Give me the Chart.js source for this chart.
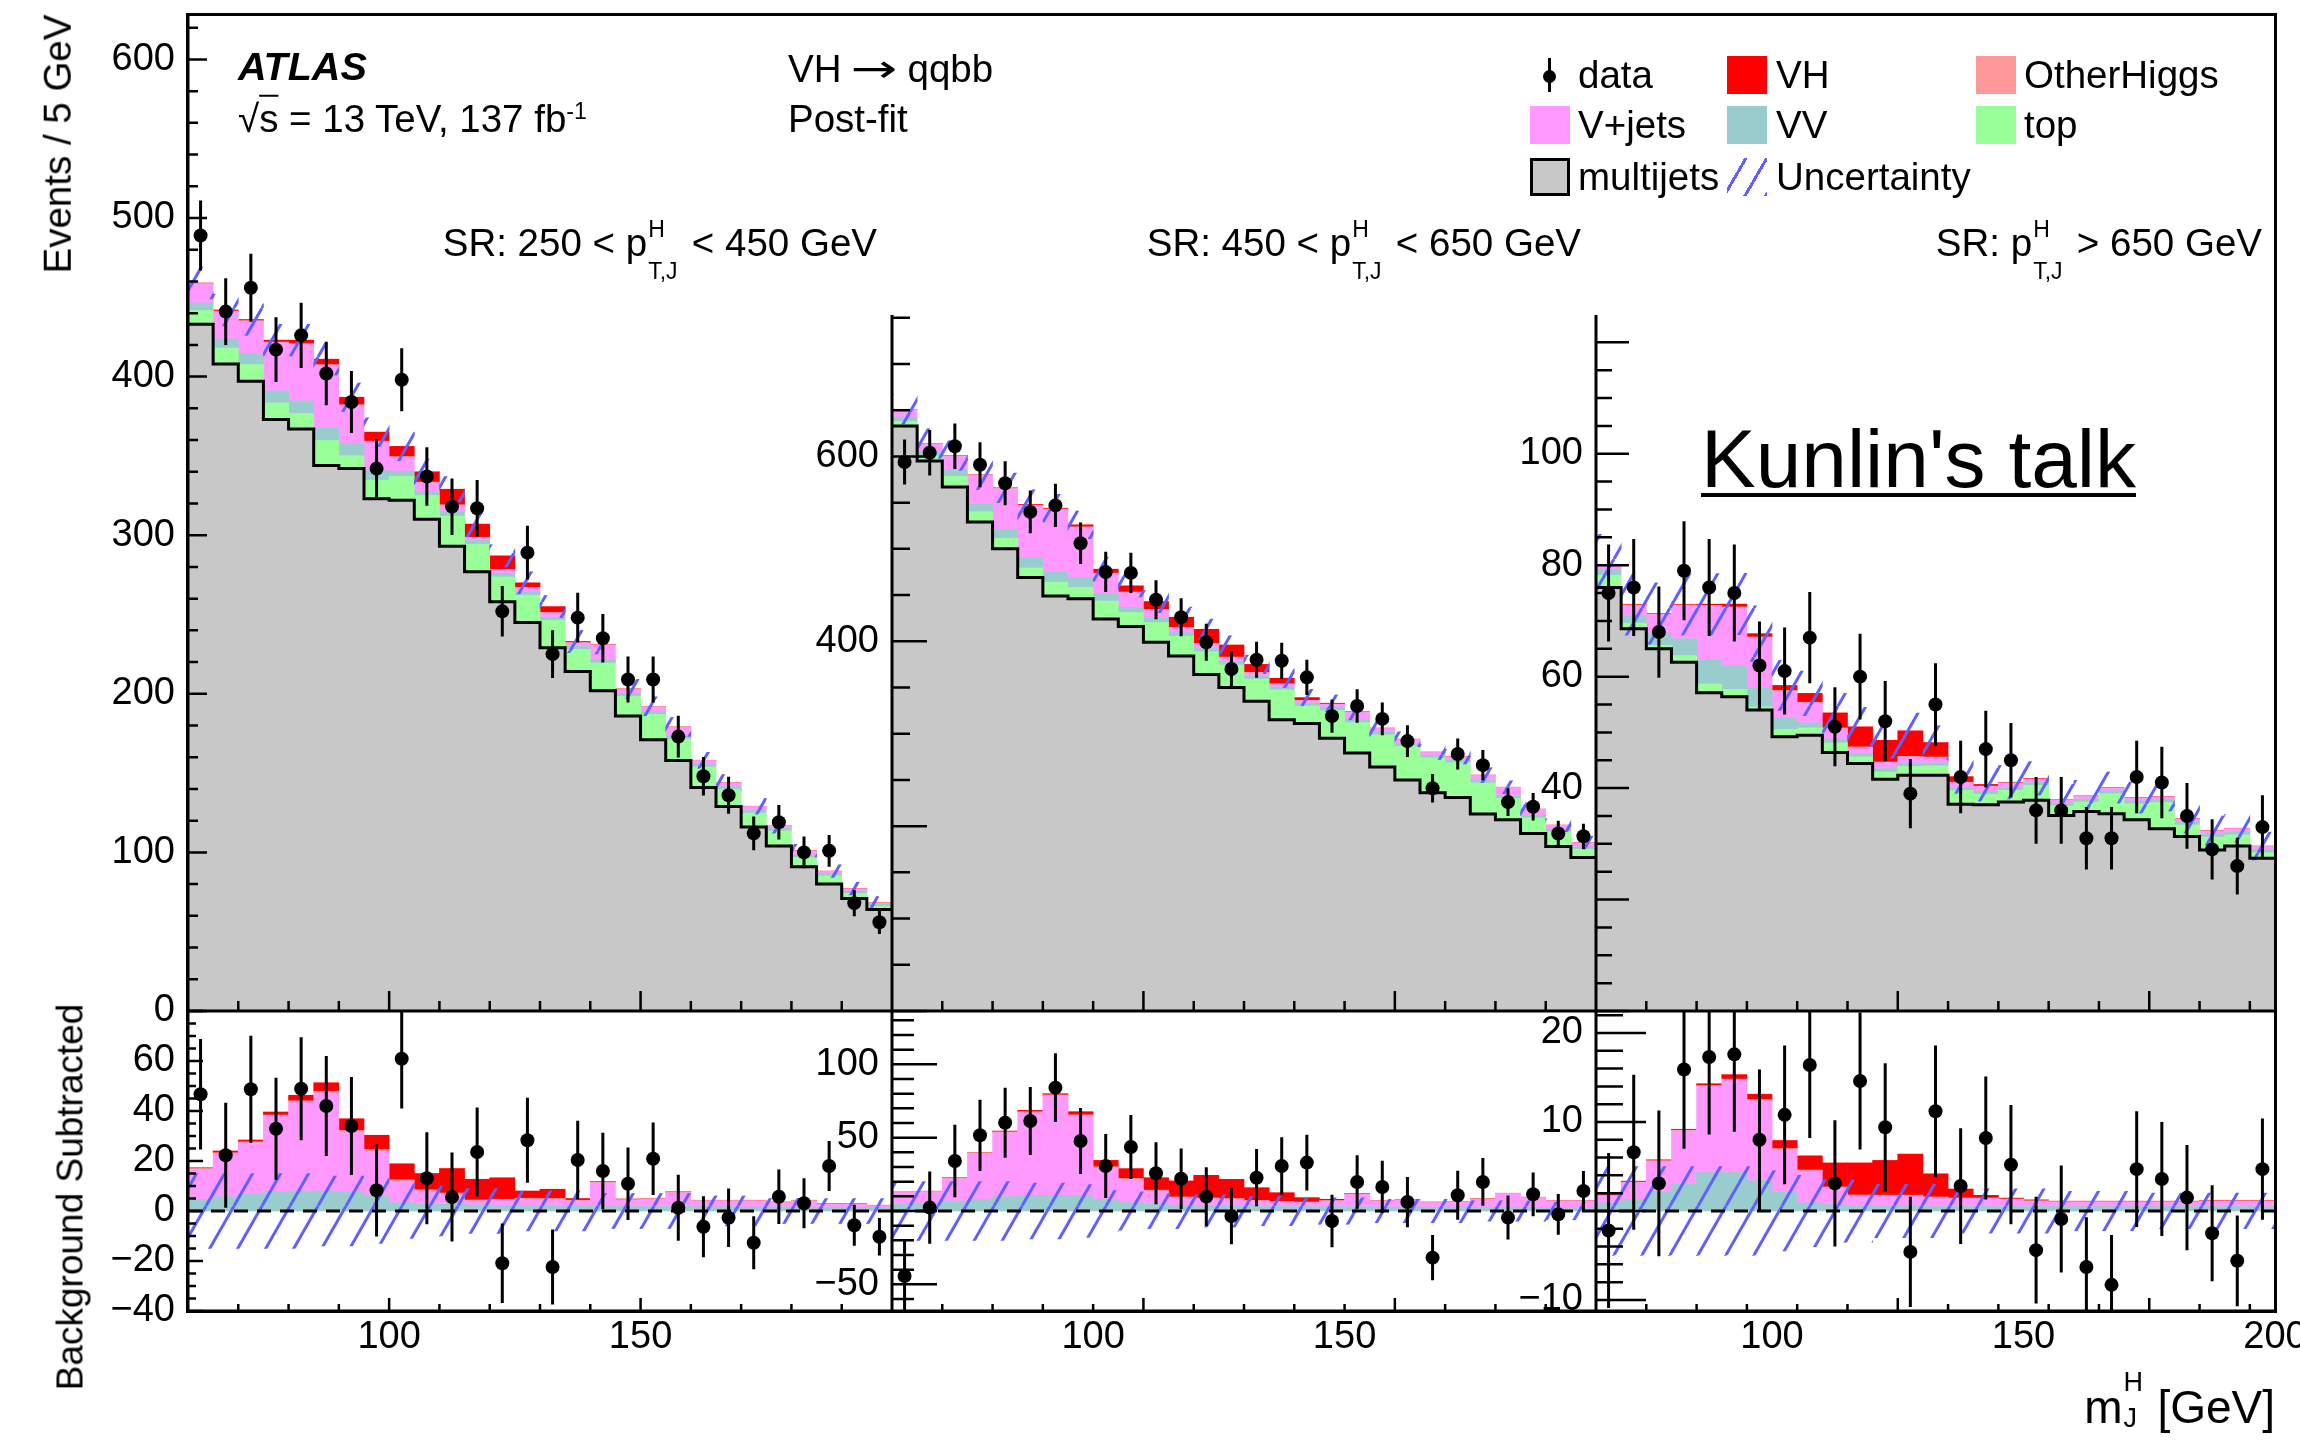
<!DOCTYPE html>
<html>
<head>
<meta charset="utf-8">
<title>VH to qqbb post-fit large-R jet mass</title>
<script src="https://cdn.jsdelivr.net/npm/chart.js@4.4.1/dist/chart.umd.min.js"></script>
<style>
  html, body { margin: 0; padding: 0; background: #fff; }
  body { position: relative; width: 2300px; height: 1441px; overflow: hidden;
         font-family: "Liberation Sans", Arial, Helvetica, sans-serif; color: #000; }
  canvas { position: absolute; }
  .t { position: absolute; white-space: nowrap; line-height: 1; font-size: 38.5px; transform: translateY(-50%); z-index: 5; }
  .r { transform: translate(-100%, -50%); }
  .rot { transform: translate(-50%, -50%) rotate(-90deg); }
  .ss { position: relative; display: inline-block; width: 34px; height: 0.8em; }
  .ss span { position: absolute; left: 1px; font-size: 23px; line-height: 1; }
  .ss .up { top: -7px; }
  .ss .dn { top: 35px; }
  .sq { text-decoration: overline; text-decoration-thickness: 2px; }
  .sup { position: relative; top: -0.55em; font-size: 0.6em; }
  .arr { display: inline-block; width: 66px; text-align: center; font-family: "DejaVu Sans", sans-serif; }
  .arr span { display: inline-block; transform: scaleX(1.45); }
  .sw { position: absolute; width: 40px; height: 38px; box-sizing: border-box; z-index: 5; }
  #frame { position: absolute; left: 186px; top: 13px; width: 2085px; height: 1294px; border: 3px solid #000; z-index: 4; }
</style>
</head>
<body>
<canvas id="u1"></canvas>
<canvas id="u2"></canvas>
<canvas id="u3"></canvas>
<canvas id="l1"></canvas>
<canvas id="l2"></canvas>
<canvas id="l3"></canvas>
<div id="frame"></div>

<div class="t" style="left:238px;top:67px;font-weight:bold;font-style:italic;font-size:39.5px">ATLAS</div>
<div class="t" style="left:238px;top:119px">√<span class="sq">s</span> = 13 TeV, 137 fb<span class="sup">-1</span></div>
<div class="t" style="left:788px;top:69px">VH<span class="arr"><span>→</span></span>qqbb</div>
<div class="t" style="left:788px;top:119px">Post-fit</div>

<div class="t r" style="left:877px;top:243px">SR: 250 &lt; p<span class="ss"><span class="up">H</span><span class="dn">T,J</span></span> &lt; 450 GeV</div>
<div class="t r" style="left:1581px;top:243px">SR: 450 &lt; p<span class="ss"><span class="up">H</span><span class="dn">T,J</span></span> &lt; 650 GeV</div>
<div class="t r" style="left:2262px;top:243px">SR: p<span class="ss"><span class="up">H</span><span class="dn">T,J</span></span> &gt; 650 GeV</div>

<div class="sw" style="left:1548px;top:58px;width:3px;height:34px;background:#000"></div>
<div class="sw" style="left:1543px;top:70px;width:13px;height:13px;border-radius:50%;background:#000"></div>
<div class="t" style="left:1578px;top:75px">data</div>
<div class="sw" style="left:1727px;top:56px;background:#ff0000"></div>
<div class="t" style="left:1776px;top:75px">VH</div>
<div class="sw" style="left:1976px;top:56px;background:#ff9999"></div>
<div class="t" style="left:2024px;top:75px">OtherHiggs</div>
<div class="sw" style="left:1530px;top:106px;background:#ff99ff"></div>
<div class="t" style="left:1578px;top:125px">V+jets</div>
<div class="sw" style="left:1727px;top:106px;background:#99cccc"></div>
<div class="t" style="left:1776px;top:125px">VV</div>
<div class="sw" style="left:1976px;top:106px;background:#99ff99"></div>
<div class="t" style="left:2024px;top:125px">top</div>
<div class="sw" style="left:1530px;top:158px;background:#c8c8c8;border:3px solid #000"></div>
<div class="t" style="left:1578px;top:177px">multijets</div>
<div class="sw" style="left:1727px;top:158px;background:repeating-linear-gradient(120deg, transparent 0 15px, #6060ff 15px 18px)"></div>
<div class="t" style="left:1776px;top:177px">Uncertainty</div>

<div class="t" style="left:1701px;top:459px;font-size:82px;text-decoration:underline;text-decoration-thickness:4px;text-underline-offset:6px">Kunlin's talk</div>

<div class="t rot" style="left:58px;top:144px">Events / 5 GeV</div>
<div class="t rot" style="left:70px;top:1197px;font-size:37px">Background Subtracted</div>
<div class="t r" style="left:2275px;top:1407px;font-size:46px">m<span class="ss" style="width:22px;height:0.8em"><span class="up" style="font-size:27px;top:-17px">H</span><span class="dn" style="font-size:27px;top:19px">J</span></span> [GeV]</div>

<script>
// ---- bin centres (GeV) ----
const massA = [62.5, 67.5, 72.5, 77.5, 82.5, 87.5, 92.5, 97.5, 102.5, 107.5, 112.5, 117.5, 122.5, 127.5,
               132.5, 137.5, 142.5, 147.5, 152.5, 157.5, 162.5, 167.5, 172.5, 177.5, 182.5, 187.5, 192.5, 197.5];
const massC = [67.5, 72.5, 77.5, 82.5, 87.5, 92.5, 97.5, 102.5, 107.5, 112.5, 117.5, 122.5, 127.5,
               132.5, 137.5, 142.5, 147.5, 152.5, 157.5, 162.5, 167.5, 172.5, 177.5, 182.5, 187.5, 192.5, 197.5];

// ---- SR 250 < pT < 450 GeV ----
const data1 = [489, 441, 456, 417, 426, 402, 384, 342, 398, 337, 318, 317, 252, 289, 225, 248, 235, 209, 209, 173, 148, 136, 112, 119, 100, 101, 68, 56];
const err1 = [22.1, 21.0, 21.4, 20.4, 20.6, 20.0, 19.6, 18.5, 19.9, 18.4, 17.8, 17.8, 15.9, 17.0, 15.0, 15.7, 15.3, 14.5, 14.5, 13.2, 12.2, 11.7, 10.6, 10.9, 10.0, 10.0, 8.2, 7.5];
const mj1 = [433, 408, 397, 373, 367, 344, 342, 323, 322, 310, 293, 277, 258, 245, 229, 214, 202, 186, 171, 158, 141, 129, 116, 104, 91, 80, 71, 64];
const top1 = [8.7, 10.0, 10.6, 10.4, 9.7, 15.7, 8.1, 11.7, 15.1, 15.0, 19.0, 17.3, 15.7, 17.0, 17.3, 14.0, 17.4, 12.3, 16.0, 13.4, 12.8, 10.8, 8.8, 9.5, 5.8, 5.2, 3.2, 1.9];
const vv1 = [4.7, 5.7, 6.7, 7.6, 8.0, 8.0, 7.6, 6.0, 3.3, 2.7, 2.7, 2.4, 2.3, 2.0, 2.0, 2.0, 2.0, 1.8, 1.8, 1.8, 1.7, 1.7, 1.6, 1.6, 1.5, 1.5, 1.4, 1.4];
const vj1 = [12.0, 17.3, 20.6, 30.4, 35.6, 39.3, 24.0, 18.0, 8.7, 5.3, 4.0, 1.6, 2.0, 2.7, 2.7, 2.0, 9.3, 2.5, 2.9, 5.5, 2.3, 2.3, 2.4, 1.7, 2.5, 1.2, 1.3, 0.6];
const oh1 = [0.3, 0.3, 0.4, 0.4, 0.5, 0.6, 0.6, 0.6, 0.5, 0.5, 0.5, 0.4, 0.4, 0.4, 0.3, 0.3, 0.3, 0.3, 0.3, 0.3, 0.2, 0.2, 0.2, 0.2, 0.2, 0.2, 0.2, 0.2];
const vh1 = [0.3, 0.7, 0.7, 1.2, 2.2, 3.4, 4.7, 5.7, 6.4, 6.5, 9.8, 8.3, 8.6, 2.9, 3.7, 0.7, 0.2, 0.2, 0.1, 0.1, 0.1, 0.1, 0.1, 0.1, 0.1, 0.1, 0.1, 0.1];
const uncUp1 = [10, 10, 10, 10, 10, 10, 9, 9, 9, 8, 8, 8, 7, 7, 7, 7, 6, 6, 6, 6, 5, 5, 5, 5, 4, 4, 4, 4];
const sub1 = [46.7, 22.3, 48.7, 32.9, 48.9, 42.0, 34.0, 8.3, 60.9, 13.1, 5.6, 23.6, -20.9, 28.3, -22.4, 20.4, 16.0, 10.9, 20.9, 1.3, -6.3, -2.7, -12.7, 5.7, 3.1, 18.0, -5.7, -10.3];
const uncLo1 = [15, 15, 15, 15, 15, 14, 14, 13, 11, 10, 10, 9, 9, 8, 8, 8, 7, 7, 7, 7, 6, 6, 6, 5, 5, 5, 5, 5];

// ---- SR 450 < pT < 650 GeV ----
const data2 = [594, 604, 611, 591, 571, 540, 547, 506, 475, 474, 445, 426, 399, 370, 380, 379, 361, 319, 330, 316, 292, 241, 278, 266, 226, 221, 192, 189];
const err2 = [24.4, 24.6, 24.7, 24.3, 23.9, 23.2, 23.4, 22.5, 21.8, 21.8, 21.1, 20.6, 20.0, 19.2, 19.5, 19.5, 19.0, 17.9, 18.2, 17.8, 17.1, 15.5, 16.7, 16.3, 15.0, 14.9, 13.9, 13.7];
const mj2 = [633, 595, 567, 529, 500, 469, 449, 446, 424, 416, 399, 384, 364, 350, 335, 315, 311, 295, 279, 264, 250, 236, 231, 213, 207, 192, 178, 166];
const top2 = [5.0, 5.5, 11.3, 11.2, 11.5, 10.4, 15.0, 12.3, 19.5, 15.1, 21.3, 21.5, 24.7, 24.4, 24.1, 32.5, 19.0, 30.0, 33.0, 34.8, 36.4, 38.0, 37.6, 33.8, 23.0, 17.0, 16.0, 9.0];
const vv2 = [4.5, 5.2, 6.8, 8.0, 9.8, 10.7, 10.7, 10.7, 8.0, 5.7, 4.5, 3.9, 3.4, 3.4, 3.2, 3.0, 3.0, 3.0, 3.0, 2.8, 2.8, 2.7, 2.7, 2.6, 2.6, 2.5, 2.5, 2.4];
const vj2 = [8.0, 7.8, 15.2, 31.3, 43.6, 56.3, 67.7, 54.1, 21.5, 15.9, 9.1, 5.2, 5.0, 4.6, 3.6, 3.1, 2.7, 3.8, 8.4, 4.0, 4.5, 3.0, 3.4, 5.4, 9.2, 6.6, 4.3, 4.4];
const oh2 = [0.3, 0.3, 0.4, 0.5, 0.6, 0.7, 0.8, 0.8, 0.7, 0.6, 0.6, 0.5, 0.5, 0.5, 0.4, 0.4, 0.4, 0.3, 0.3, 0.3, 0.3, 0.3, 0.3, 0.3, 0.2, 0.2, 0.2, 0.2];
const vh2 = [0.2, 0.2, 0.3, 0.1, 0.5, 0.9, 0.8, 2.1, 4.3, 6.7, 8.5, 10.9, 15.4, 13.1, 8.7, 6.0, 3.0, 0.9, 0.3, 0.2, 0.1, 0.1, 0.1, 0.1, 0.1, 0.1, 0.1, 0.1];
const uncUp2 = [16, 16, 16, 16, 16, 16, 15, 15, 13, 12, 12, 11, 11, 10, 10, 10, 9, 9, 9, 9, 8, 8, 8, 8, 7, 7, 7, 7];
const sub2 = [-44.3, 2.3, 34.1, 51.6, 60.2, 61.4, 84.1, 47.7, 30.7, 43.6, 25.7, 22.0, 9.8, -3.4, 22.7, 30.7, 33.0, -6.8, 19.8, 16.4, 6.1, -31.8, 10.7, 19.8, -4.5, 11.4, -2.3, 13.6];
const uncLo2 = [20, 20, 20, 20, 20, 19, 19, 18, 14, 13, 12, 12, 11, 11, 10, 10, 9, 9, 9, 8, 8, 8, 8, 7, 7, 7, 6, 6];

// ---- SR pT > 650 GeV ----
const data3 = [75, 76, 68, 79, 76, 75, 62, 61, 67, 51, 60, 52, 39, 55, 42, 47, 45, 36, 36, 31, 31, 42, 41, 35, 29, 26, 33];
const err3 = [8.7, 8.7, 8.2, 8.9, 8.7, 8.7, 7.9, 7.8, 8.2, 7.1, 7.7, 7.2, 6.2, 7.4, 6.5, 6.9, 6.7, 6.0, 6.0, 5.6, 5.6, 6.5, 6.4, 5.9, 5.4, 5.1, 5.7];
const mj3 = [76.0, 68.6, 65.0, 62.6, 57.1, 56.4, 54.0, 49.2, 49.5, 46.4, 44.4, 41.6, 42.3, 42.3, 37.1, 37.0, 37.5, 37.8, 35.1, 35.8, 35.4, 34.3, 32.7, 31.3, 28.9, 29.6, 27.4];
const top3 = [2.2, 1.0, 0.6, 1.2, 1.6, 1.3, 0.6, 1.3, 1.3, 1.7, 1.2, 1.3, 1.6, 1.7, 2.5, 1.9, 2.1, 2.7, 1.7, 1.7, 3.6, 2.9, 4.7, 2.1, 2.3, 2.0, 1.0];
const vv3 = [0.9, 1.3, 2.1, 3.0, 4.3, 4.3, 3.4, 2.1, 0.9, 0.7, 0.6, 0.6, 0.6, 0.5, 0.5, 0.5, 0.5, 0.5, 0.5, 0.5, 0.5, 0.5, 0.5, 0.5, 0.5, 0.5, 0.5];
const vj3 = [0.8, 1.9, 3.5, 6.0, 9.7, 10.4, 9.0, 4.8, 3.6, 1.9, 1.1, 1.1, 1.1, 1.0, 0.9, 0.9, 0.8, 0.6, 0.5, 0.5, 0.5, 0.5, 0.5, 0.5, 0.6, 0.6, 0.6];
const oh3 = [0.05, 0.05, 0.05, 0.08, 0.1, 0.12, 0.12, 0.12, 0.1, 0.1, 0.1, 0.08, 0.08, 0.08, 0.06, 0.06, 0.05, 0.05, 0.05, 0.05, 0.05, 0.05, 0.05, 0.05, 0.05, 0.05, 0.05];
const vh3 = [0.1, 0.1, 0.1, 0.1, 0.2, 0.5, 0.6, 0.9, 1.6, 2.7, 3.6, 3.9, 4.6, 2.6, 1.0, 0.3, 0.1, 0.1, 0.05, 0.05, 0.05, 0.05, 0.05, 0.05, 0.05, 0.05, 0.05];
const uncUp3 = [5.5, 5.5, 5.5, 5.5, 5.5, 5.5, 5, 4.5, 4, 3.5, 3.5, 3.2, 3.2, 3, 3, 3, 3, 3, 2.8, 2.8, 2.8, 2.8, 2.6, 2.6, 2.6, 2.5, 2.5];
const sub3 = [-2.2, 6.6, 3.1, 15.9, 17.3, 17.6, 8.0, 10.8, 16.4, 3.1, 14.6, 9.4, -4.6, 11.2, 2.8, 8.2, 5.2, -4.4, -0.9, -6.3, -8.3, 4.7, 3.6, 1.5, -2.5, -5.6, 4.7];
const uncLo3 = [5, 5, 5, 5, 5, 5, 5, 4.5, 4, 3.5, 3.5, 3, 3, 3, 2.5, 2.5, 2.5, 2.5, 2.2, 2.2, 2.2, 2.2, 2, 2, 2, 2, 2];

// ---- tick labels ----
const yLabUp = [[0, 100, 200, 300, 400, 500, 600], [400, 600], [40, 60, 80, 100]];
const yLabLo = [[-40, -20, 0, 20, 40, 60], [-50, 50, 100], [-10, 10, 20]];
const xLab = [[100, 150], [100, 150], [100, 150, 200]];

// ---- styles / layout ----
const C = { mj: '#c8c8c8', top: '#99ff99', vv: '#99cccc', vj: '#ff99ff', oh: '#ff9999', vh: '#ff0000', hatch: '#6060ff' };
const ML = 150, MR = 50, MT = 50, MB = 50, XH = 62, PB = 10, TICKFONT = 38;
const xL = [188, 892, 1596], xR = [892, 1596, 2275], yTop = [15, 315, 315], yMid = 1011, yBot = 1311;
const xRange = [[60, 200], [60, 200], [65, 200]];
const yRangeUp = [[0, 628], [0, 753], [0, 124.9]];
const yRangeLo = [[-40, 80], [-68.18, 136.35], [-11.24, 22.47]];
const yStepUp = [100, 200, 20], yStepLo = [20, 50, 10];
const tickCfg = {
  u1: { y: [20, 100, 10, 19], x: [70, 10, [100, 150], 10, 20] },
  u2: { y: [50, 200, 18, 35], x: [70, 10, [110, 160], 10, 20] },
  u3: { y: [5, 20, 16, 33], x: [75, 10, [125, 175], 10, 20] },
  l1: { y: [5, 20, 8, 15], x: [70, 10, [100, 150], 7, 13] },
  l2: { y: [10, 50, 22, 45], x: [70, 10, [110, 160], 7, 13] },
  l3: { y: [2, 10, 27, 50], x: [75, 10, [125, 175], 7, 13] }
};

Chart.defaults.font.family = '"Liberation Sans", Arial, Helvetica, sans-serif';
Chart.defaults.color = '#000';

const hatch = (() => {
  const w = 28, h = 49;
  const c = document.createElement('canvas');
  c.width = w; c.height = h;
  const g = c.getContext('2d');
  g.strokeStyle = C.hatch; g.lineWidth = 3;
  [-w, 0, w].forEach(o => { g.beginPath(); g.moveTo(o, h); g.lineTo(o + w, 0); g.stroke(); });
  return g.createPattern(c, 'repeat');
})();

// vertical error bars on the data points
const errorBars = {
  id: 'errorBars',
  beforeDatasetDraw(chart, args) {
    const ds = chart.data.datasets[args.index];
    if (!ds.errs) return;
    const { ctx, chartArea: a, scales: { x, y } } = chart;
    ctx.save();
    ctx.beginPath(); ctx.rect(a.left, a.top, a.right - a.left, a.bottom - a.top); ctx.clip();
    ctx.strokeStyle = '#000'; ctx.lineWidth = 3;
    ctx.beginPath();
    ds.data.forEach((p, i) => {
      const px = x.getPixelForValue(p.x);
      ctx.moveTo(px, y.getPixelForValue(p.y - ds.errs[i]));
      ctx.lineTo(px, y.getPixelForValue(p.y + ds.errs[i]));
    });
    ctx.stroke();
    ctx.restore();
  }
};

// ROOT style frame with ticks pointing inwards
const rootAxes = {
  id: 'rootAxes',
  afterDraw(chart) {
    const o = tickCfg[chart.canvas.id];
    const { ctx, chartArea: a, scales: { x, y } } = chart;
    ctx.save();
    ctx.strokeStyle = '#000';
    ctx.lineWidth = 3;
    ctx.beginPath();
    ctx.moveTo(a.left, a.top); ctx.lineTo(a.left, a.bottom); ctx.lineTo(a.right, a.bottom);
    ctx.stroke();
    ctx.lineWidth = 2.5;
    ctx.beginPath();
    const [ys, ymaj, ys0, ys1] = o.y;
    for (let k = Math.ceil(y.min / ys - 1e-6); k <= Math.floor(y.max / ys + 1e-6); k++) {
      const v = k * ys, py = y.getPixelForValue(v);
      const big = Math.abs(v / ymaj - Math.round(v / ymaj)) < 1e-6;
      ctx.moveTo(a.left, py); ctx.lineTo(a.left + (big ? ys1 : ys0), py);
    }
    const [x0, xs, xmaj, xs0, xs1] = o.x;
    for (let v = x0; v < x.max - 1e-6; v += xs) {
      const px = x.getPixelForValue(v);
      ctx.moveTo(px, a.bottom); ctx.lineTo(px, a.bottom - (xmaj.includes(v) ? xs1 : xs0));
    }
    ctx.stroke();
    ctx.restore();
  }
};

function lab(list, v) {
  if (!list || !list.some(l => Math.abs(l - v) < 1e-6)) return '';
  return v < 0 ? '\u2212' + Math.abs(v) : String(v);
}

function stack(mass, comps, cols) {
  const base = mass.map(() => 0);
  return comps.map((arr, k) => ({
    type: 'bar',
    data: mass.map((x, i) => { const a = base[i]; base[i] += arr[i]; return { x, y: [a, base[i]] }; }),
    backgroundColor: cols[k], borderWidth: 0, grouped: false,
    barPercentage: 1, categoryPercentage: 1, order: 10 + k, clip: 0
  }));
}

function band(mass, centre, unc) {
  return {
    type: 'bar',
    data: mass.map((x, i) => ({ x, y: [centre[i] - unc[i], centre[i] + unc[i]] })),
    backgroundColor: hatch, borderWidth: 0, grouped: false,
    barPercentage: 1, categoryPercentage: 1, order: 2, clip: 0
  };
}

function points(mass, vals, errs) {
  return {
    type: 'line', data: mass.map((x, i) => ({ x, y: vals[i] })), errs,
    showLine: false, pointRadius: 7, pointHoverRadius: 7, pointBackgroundColor: '#000',
    pointBorderWidth: 0, order: 0, clip: 0
  };
}

function outline(mass, mj) {
  const pts = mass.map((x, i) => ({ x: x - 2.5, y: mj[i] }));
  pts.push({ x: mass[mass.length - 1] + 2.5, y: mj[mj.length - 1] });
  return { type: 'line', data: pts, stepped: 'before', borderColor: '#000', borderWidth: 3,
           pointRadius: 0, fill: false, order: 1, clip: 0 };
}

function zeroLine(xr) {
  return { type: 'line', data: [{ x: xr[0], y: 0 }, { x: xr[1], y: 0 }], borderColor: '#000',
           borderWidth: 3, borderDash: [14, 9], pointRadius: 0, fill: false, order: 1, clip: 0 };
}

function makeChart(id, box, xr, yr, yStep, yLabels, xLabels, datasets) {
  const cv = document.getElementById(id);
  cv.width = box.w; cv.height = box.h;
  Object.assign(cv.style, { left: box.l + 'px', top: box.t + 'px', width: box.w + 'px', height: box.h + 'px' });
  const xScale = {
    type: 'linear', min: xr[0], max: xr[1], offset: false, display: !!xLabels,
    grid: { display: false, drawTicks: false }, border: { display: false },
    ticks: { stepSize: 50, autoSkip: false, maxRotation: 0, includeBounds: false, padding: 4,
             font: { size: TICKFONT }, color: '#000', callback: v => lab(xLabels, v) }
  };
  if (xLabels) xScale.afterFit = s => { s.height = XH; };
  return new Chart(cv, {
    type: 'bar',
    data: { datasets },
    plugins: [errorBars, rootAxes],
    options: {
      responsive: false, animation: false, devicePixelRatio: 1, events: [],
      layout: { padding: { left: 0, right: MR, top: MT, bottom: xLabels ? PB : MB } },
      plugins: { legend: { display: false }, tooltip: { enabled: false } },
      scales: {
        x: xScale,
        y: {
          type: 'linear', min: yr[0], max: yr[1],
          grid: { display: false, drawTicks: false }, border: { display: false },
          ticks: { stepSize: yStep, autoSkip: false, includeBounds: false, padding: 13,
                   font: { size: TICKFONT }, color: '#000', callback: v => lab(yLabels, v) },
          afterFit: s => { s.width = ML; }
        }
      }
    }
  });
}

const panels = [
  { mass: massA, data: data1, err: err1, mj: mj1, top: top1, vv: vv1, vj: vj1, oh: oh1, vh: vh1, uncUp: uncUp1, sub: sub1, uncLo: uncLo1 },
  { mass: massA, data: data2, err: err2, mj: mj2, top: top2, vv: vv2, vj: vj2, oh: oh2, vh: vh2, uncUp: uncUp2, sub: sub2, uncLo: uncLo2 },
  { mass: massC, data: data3, err: err3, mj: mj3, top: top3, vv: vv3, vj: vj3, oh: oh3, vh: vh3, uncUp: uncUp3, sub: sub3, uncLo: uncLo3 }
];

panels.forEach((p, k) => {
  const w = xR[k] - xL[k] + ML + MR;
  // upper pad: stacked backgrounds and data
  const comps = [p.mj, p.top, p.vv, p.vj, p.oh, p.vh];
  const total = p.mass.map((_, i) => comps.reduce((s, a) => s + a[i], 0));
  const up = stack(p.mass, comps, [C.mj, C.top, C.vv, C.vj, C.oh, C.vh]);
  up.push(outline(p.mass, p.mj), band(p.mass, total, p.uncUp), points(p.mass, p.data, p.err));
  makeChart('u' + (k + 1),
    { l: xL[k] - ML, t: yTop[k] - MT, w, h: yMid - yTop[k] + MT + MB },
    xRange[k], yRangeUp[k], yStepUp[k], yLabUp[k], null, up);

  // lower pad: background subtracted
  const lo = stack(p.mass, [p.vv, p.vj, p.oh, p.vh], [C.vv, C.vj, C.oh, C.vh]);
  lo.push(band(p.mass, p.mass.map(() => 0), p.uncLo), zeroLine(xRange[k]), points(p.mass, p.sub, p.err));
  makeChart('l' + (k + 1),
    { l: xL[k] - ML, t: yMid - MT, w, h: yBot - yMid + MT + XH + PB },
    xRange[k], yRangeLo[k], yStepLo[k], yLabLo[k], xLab[k], lo);
});
</script>
</body>
</html>
